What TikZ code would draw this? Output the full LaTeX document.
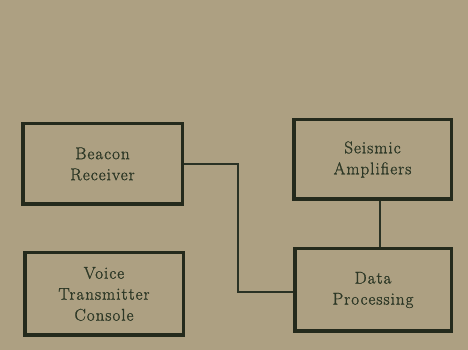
\documentclass[tikz,border=0pt]{standalone}
\usepackage{fontspec}
\setmainfont{Latin Modern Roman}[LetterSpace=6, FakeBold=1.2]
\definecolor{bg}{RGB}{173,160,130}
\definecolor{boxline}{RGB}{36,42,28}
\definecolor{txt}{RGB}{45,56,38}
\definecolor{wire}{RGB}{42,50,36}
\tikzset{
  blk/.style={draw=boxline, line width=3.5pt, fill=bg, align=center, text=txt,
    font=\fontsize{17}{21}\selectfont, inner sep=0pt},
  wireline/.style={draw=wire, line width=1.8pt}
}
\begin{document}
\begin{tikzpicture}[x=1pt,y=1pt]
\fill[bg] (0,0) rectangle (468,350);
\useasboundingbox (0,0) rectangle (468,350);
\node[blk, minimum width=159.5pt, minimum height=80.5pt] (beacon) at (102.5,186) {Beacon\\Receiver};
\node[blk, minimum width=158.5pt, minimum height=82.5pt] (voice) at (104,56) {Voice\\Transmitter\\Console};
\node[blk, minimum width=157.5pt, minimum height=79.5pt] (seismic) at (372.5,190.5) {Seismic\\Amplifiers};
\node[blk, minimum width=156.5pt, minimum height=82.5pt] (data) at (373,60) {Data\\Processing};
\coordinate (bend) at (238,58);
\draw[wireline] (beacon.east) -| (bend) -- (bend -| data.west);
\draw[wireline] ([xshift=7.5pt]seismic.south) -- ([xshift=7pt]data.north);
\end{tikzpicture}
\end{document}
